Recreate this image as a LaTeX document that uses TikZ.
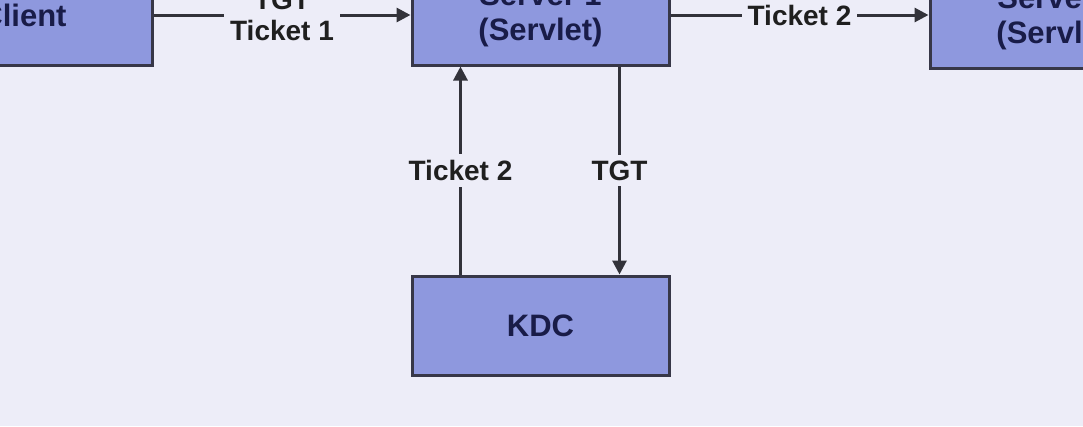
\documentclass[tikz,border=0pt]{standalone}
\usepackage{fontspec}
\setmainfont{Liberation Sans}
\usetikzlibrary{arrows.meta}
\definecolor{bg}{RGB}{237,237,248}
\definecolor{boxfill}{RGB}{142,152,222}
\definecolor{boxline}{RGB}{55,55,72}
\definecolor{boxtext}{RGB}{25,28,72}
\definecolor{linecol}{RGB}{50,50,58}
\begin{document}
\begin{tikzpicture}[x=1pt,y=-1pt,
  box/.style={draw=boxline, line width=3pt, fill=boxfill, minimum width=257pt,
    minimum height=100pt, inner sep=0pt, align=center,
    font=\fontsize{31}{35}\selectfont\bfseries, text=boxtext},
  conn/.style={draw=linecol, line width=3pt, -{Triangle[length=14pt,width=14pt]}},
  lbl/.style={fill=bg, inner sep=6pt, align=center,
    font=\fontsize{28}{31}\selectfont\bfseries, text=black!88}]
\useasboundingbox (0,0) rectangle (1083,426);
\begin{scope}
\clip (0,0) rectangle (1083,426);
\fill[bg] (0,0) rectangle (1083,426);
\node[box] (client) at (23.5,15) {Client};
\node[box] (server1) at (540.5,15) {Server 1\\(Servlet)};
\node[box] (server2) at (1058.5,18) {Server 2\\(Servlet)};
\node[box, minimum height=99pt] (kdc) at (540.5,325.5) {KDC};
\draw[conn] (client.east) -- node[lbl]{TGT\\Ticket 1} (server1.west);
\draw[conn] (server1.east) -- node[lbl]{Ticket 2} (server1.east -| server2.west);
\draw[conn] ([xshift=50pt]kdc.north west) -- node[lbl]{Ticket 2} ([xshift=50pt]server1.south west);
\draw[conn] ([xshift=-51pt]server1.south east) -- node[lbl]{TGT} ([xshift=-51pt]kdc.north east);
\end{scope}
\end{tikzpicture}
\end{document}
